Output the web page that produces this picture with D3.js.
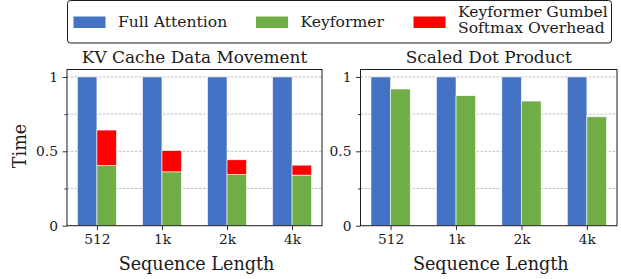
<!DOCTYPE html>
<html><head><meta charset="utf-8">
<script src="https://cdn.jsdelivr.net/npm/d3@7"></script>
<style>
html,body{margin:0;padding:0;background:#fff;}
svg text{font-family:"DejaVu Serif";}
</style></head>
<body><svg id="c" width="621" height="279"></svg>
<script>
const categories = ["512","1k","2k","4k"];
const kvFull = [1,1,1,1];
const kvKeyformer = [0.404,0.362,0.344,0.340];
const kvOverhead = [0.239,0.143,0.099,0.067];
const sdpFull = [1,1,1,1];
const sdpKeyformer = [0.919,0.874,0.838,0.732];
const yTickValues = [0,0.5,1];
const yTickLabels = ["0","0.5","1"];
const yGridValues = [0.25,0.5,0.75,1];
const colors = {full:"#4472C4", key:"#70AD47", over:"#FF0000"};

(function(){
const svg = d3.select("#c");
const ink = "#1a1a1a";
const FF = "DejaVu Serif";
const labelSize = 17.6, titleSize = 16.9, tickSize = 13.8, legendSize = 15.6;
const plotTop = 69.5, plotBottom = 225.7;
const y = d3.scaleLinear().domain([0,1.05]).range([plotBottom, plotTop]);

const panels = [
  {title:"KV Cache Data Movement", x0:67, x1:322, full:kvFull, key:kvKeyformer, over:kvOverhead},
  {title:"Scaled Dot Product", x0:360.5, x1:617, full:sdpFull, key:sdpKeyformer, over:null}
];
const bw = 0.3;

panels.forEach(p=>{
  const x = d3.scaleLinear().domain([-0.46,3.46]).range([p.x0,p.x1]);
  const g = svg.append("g");
  g.selectAll("line.grid").data(yGridValues).enter().append("line")
    .attr("x1",p.x0).attr("x2",p.x1).attr("y1",d=>y(d)).attr("y2",d=>y(d))
    .attr("stroke","#b0b0b0").attr("stroke-width",0.8).attr("stroke-dasharray","2.5,1.5");
  const idx = d3.range(categories.length);
  g.selectAll("rect.full").data(idx).enter().append("rect")
    .attr("x",i=>x(i-bw)).attr("width",i=>x(i)-x(i-bw))
    .attr("y",i=>y(p.full[i])).attr("height",i=>y(0)-y(p.full[i]))
    .attr("fill",colors.full).attr("stroke","#fff").attr("stroke-width",0.6);
  g.selectAll("rect.key").data(idx).enter().append("rect")
    .attr("x",i=>x(i)).attr("width",i=>x(i+bw)-x(i))
    .attr("y",i=>y(p.key[i])).attr("height",i=>y(0)-y(p.key[i]))
    .attr("fill",colors.key).attr("stroke","#fff").attr("stroke-width",0.6);
  if(p.over){
    g.selectAll("rect.over").data(idx).enter().append("rect")
      .attr("x",i=>x(i)).attr("width",i=>x(i+bw)-x(i))
      .attr("y",i=>y(p.key[i]+p.over[i])).attr("height",i=>y(p.key[i])-y(p.key[i]+p.over[i]))
      .attr("fill",colors.over).attr("stroke","#fff").attr("stroke-width",0.6);
  }
  const xAxis = d3.axisBottom(x).tickValues(idx).tickFormat(i=>categories[i]).tickSize(4.5).tickPadding(4);
  const ax = g.append("g").attr("transform",`translate(0,${plotBottom})`).call(xAxis);
  const yAxis = d3.axisLeft(y).tickValues(yTickValues).tickFormat((d,i)=>yTickLabels[i]).tickSize(4.5).tickPadding(4.5);
  const ay = g.append("g").attr("transform",`translate(${p.x0},0)`).call(yAxis);
  const yMinor = d3.axisLeft(y).tickValues([0.25,0.75]).tickFormat("").tickSize(2.5);
  g.append("g").attr("transform",`translate(${p.x0},0)`).call(yMinor).select(".domain").remove();
  [ax,ay].forEach(a=>{
    a.attr("font-family",FF);
    a.select(".domain").remove();
    a.selectAll("text").attr("font-family",FF).attr("font-size",tickSize).attr("fill",ink);
  });
  g.selectAll(".tick line").attr("stroke",ink).attr("stroke-width",0.9);
  g.append("rect").attr("x",p.x0).attr("y",plotTop).attr("width",p.x1-p.x0).attr("height",plotBottom-plotTop)
    .attr("fill","none").attr("stroke",ink).attr("stroke-width",1);
  g.append("text").attr("x",(p.x0+p.x1)/2).attr("y",62.5).attr("text-anchor","middle")
    .attr("font-family",FF).attr("font-size",titleSize).attr("fill",ink).text(p.title);
  g.append("text").attr("x",(p.x0+p.x1)/2 + 2).attr("y",270).attr("text-anchor","middle")
    .attr("font-family",FF).attr("font-size",labelSize).attr("fill",ink).text("Sequence Length");
});

svg.append("text").attr("transform","translate(25.5,146) rotate(-90)").attr("text-anchor","middle")
  .attr("font-family",FF).attr("font-size",labelSize).attr("fill",ink).text("Time");

const lg = svg.append("g");
lg.append("rect").attr("x",67.5).attr("y",0.5).attr("width",544).attr("height",42.5).attr("rx",3)
  .attr("fill","#fff").attr("stroke",ink).attr("stroke-width",1);
const legendItems = [
  {label:["Full Attention"], color:colors.full, hx:73.5, tx:118},
  {label:["Keyformer"], color:colors.key, hx:256, tx:300.5},
  {label:["Keyformer Gumbel","Softmax Overhead"], color:colors.over, hx:413.5, tx:458}
];
legendItems.forEach(it=>{
  lg.append("rect").attr("x",it.hx).attr("y",16.5).attr("width",32).attr("height",11.5).attr("fill",it.color);
  if(it.label.length===1){
    lg.append("text").attr("x",it.tx).attr("y",27.3).attr("font-family",FF).attr("font-size",legendSize).attr("fill",ink).text(it.label[0]);
  } else {
    it.label.forEach((l,j)=>lg.append("text").attr("x",it.tx).attr("y",16.7+j*16.6).attr("font-family",FF).attr("font-size",legendSize).attr("fill",ink).text(l));
  }
});
})();
</script></body></html>
